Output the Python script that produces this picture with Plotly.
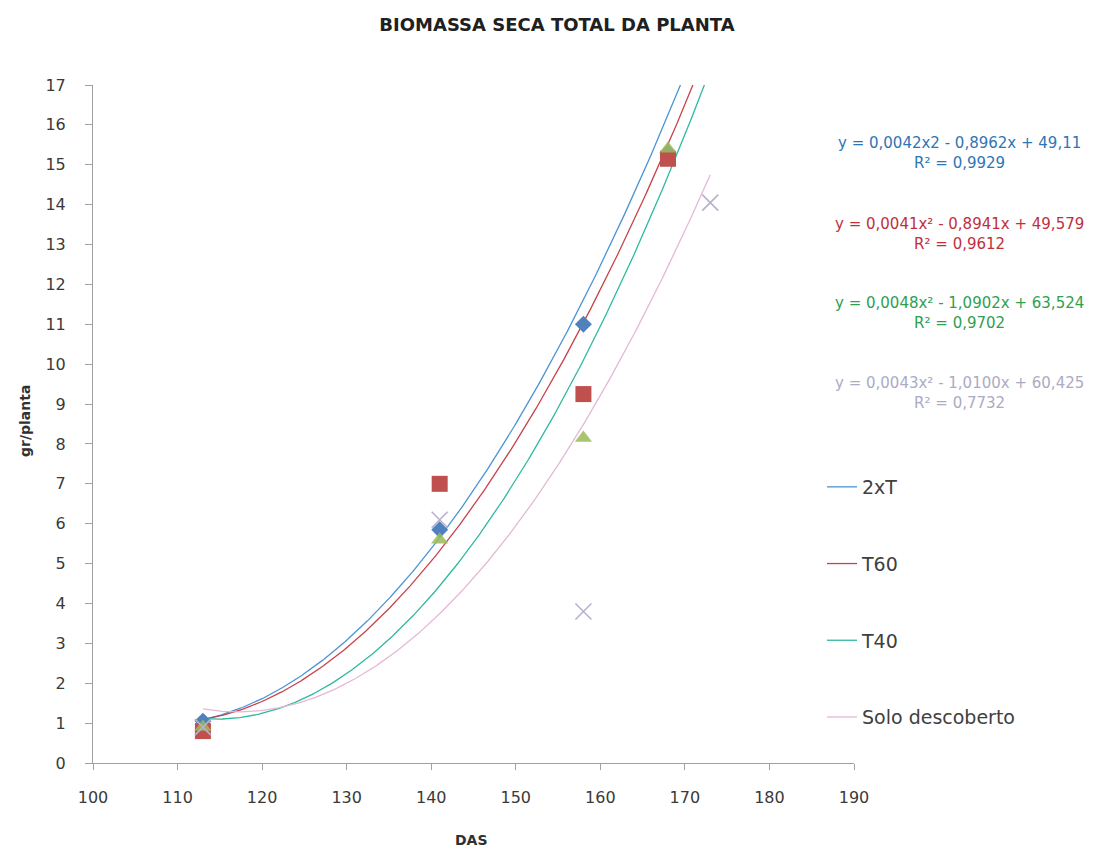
import numpy as np
import plotly.graph_objects as go

# ---- data ----
das = [113, 141, 158, 168]
das_solo = [113, 141, 158, 173]
y_2xT = [1.05, 5.85, 11.0, 15.3]
y_T60 = [0.8, 7.0, 9.25, 15.15]
y_T40 = [0.9, 5.6, 8.15, 15.4]
y_solo = [0.9, 6.1, 3.8, 14.05]

series_names = ["2xT", "T60", "T40", "Solo descoberto"]

# polynomial trendline coefficients (as shown on the chart, refined to match the drawn curves)
trend_a = [0.00417, 0.004115, 0.00476, 0.004312]
trend_b = [-0.8962, -0.8941, -1.0902, -1.0100]
trend_c = [49.11, 49.579, 63.524, 60.425]
trend_range = [113, 173]

equations = [
    "y = 0,0042x2 - 0,8962x + 49,11<br>R² = 0,9929",
    "y = 0,0041x² - 0,8941x + 49,579<br>R² = 0,9612",
    "y = 0,0048x² - 1,0902x + 63,524<br>R² = 0,9702",
    "y = 0,0043x² - 1,0100x + 60,425<br>R² = 0,7732",
]
x_ticks = list(range(100, 191, 10))
y_ticks = list(range(0, 18, 1))

# ---- styles ----
FONT = "DejaVu Sans"
OFF = 7  # page offset of the figure
PL, PR, PT, PB = 92, 853, 84, 762  # plot area in page pixels
marker_colors = ["#4F81BD", "#C0504D", "#9BBB59", "#B8B0CC"]
marker_symbols = ["diamond", "square", "triangle-up", "x-thin-open"]
marker_sizes = [13, 16, 15, 16]
line_colors = ["#4A94D6", "#C8424C", "#30B8A0", "#E6B8D6"]
eq_colors = ["#2E75B6", "#C0303A", "#2FA050", "#ABABC4"]
eq_pix_y = [152, 233, 312, 392]


def px_x(p):
    return (p - PL) / (PR - PL)


def px_y(p):
    return (PB - p) / (PB - PT)


fig = go.Figure()

xs_list = [das, das, das, das_solo]
ys_list = [y_2xT, y_T60, y_T40, y_solo]

# trendlines
for i in range(4):
    xf = np.linspace(trend_range[0], trend_range[1], 400)
    yf = np.polyval([trend_a[i], trend_b[i], trend_c[i]], xf)
    fig.add_trace(go.Scatter(
        x=xf, y=yf, mode="lines", name=series_names[i],
        line=dict(color=line_colors[i], width=1.3),
        legendgroup=series_names[i], showlegend=True, hoverinfo="skip"))

# markers (Excel series order: later series on top)
for i in range(4):
    xs, ys = xs_list[i], ys_list[i]
    if marker_symbols[i] == "x-thin-open":
        mk = dict(symbol="x-thin-open", size=marker_sizes[i], color=marker_colors[i],
                  line=dict(color=marker_colors[i], width=1.6))
    else:
        mk = dict(symbol=marker_symbols[i], size=marker_sizes[i],
                  color=marker_colors[i], line=dict(width=0),
                  opacity=0.85 if i == 2 else 1)
    fig.add_trace(go.Scatter(x=xs, y=ys, mode="markers", marker=mk,
                             showlegend=False, name=series_names[i]))

for i, eq in enumerate(equations):
    fig.add_annotation(
        text=eq, xref="paper", yref="paper",
        x=px_x(958), y=px_y(eq_pix_y[i]),
        xanchor="center", yanchor="middle", showarrow=False, align="center",
        font=dict(family=FONT, size=15, color=eq_colors[i]))

# axis titles
fig.add_annotation(text="<b>DAS</b>", xref="paper", yref="paper",
                   x=px_x(470), y=px_y(839), xanchor="center", yanchor="middle",
                   showarrow=False, font=dict(family=FONT, size=14, color="#303030"))
fig.add_annotation(text="<b>gr/planta</b>", xref="paper", yref="paper",
                   x=px_x(24), y=px_y(420), xanchor="center", yanchor="middle",
                   textangle=-90, showarrow=False,
                   font=dict(family=FONT, size=14, color="#303030"))

fig.update_layout(
    width=1102, height=846,
    margin=dict(l=PL - OFF, r=1102 - (PR - OFF), t=PT - OFF, b=846 - (PB - OFF)),
    paper_bgcolor="white", plot_bgcolor="white",
    font=dict(family=FONT, color="#404040"),
    title=dict(text="<b>BIOMASSA SECA TOTAL DA PLANTA</b>", x=(556 - OFF) / 1102,
               xref="container", xanchor="center", y=1 - (24 - OFF) / 846,
               yanchor="middle",
               font=dict(family=FONT, size=18, color="#202020")),
    xaxis=dict(range=[100, 190], tickvals=x_ticks, showgrid=False, zeroline=False,
               showline=True, linecolor="#A0A0A0", linewidth=1,
               ticks="outside", ticklen=6, tickcolor="#A0A0A0",
               ticklabelstandoff=14,
               tickfont=dict(family=FONT, size=16, color="#3A3A3A")),
    yaxis=dict(range=[0, 17], tickvals=y_ticks, showgrid=False, zeroline=False,
               showline=True, linecolor="#A0A0A0", linewidth=1,
               ticks="outside", ticklen=7, tickcolor="#A0A0A0",
               ticklabelstandoff=16,
               tickfont=dict(family=FONT, size=16, color="#3A3A3A")),
    legend=dict(x=px_x(821), y=px_y(467), xanchor="left", yanchor="top",
                tracegroupgap=49, font=dict(family=FONT, size=19, color="#404040"),
                bgcolor="rgba(0,0,0,0)", itemwidth=30),
    showlegend=True,
)

fig.write_html("out.html")
